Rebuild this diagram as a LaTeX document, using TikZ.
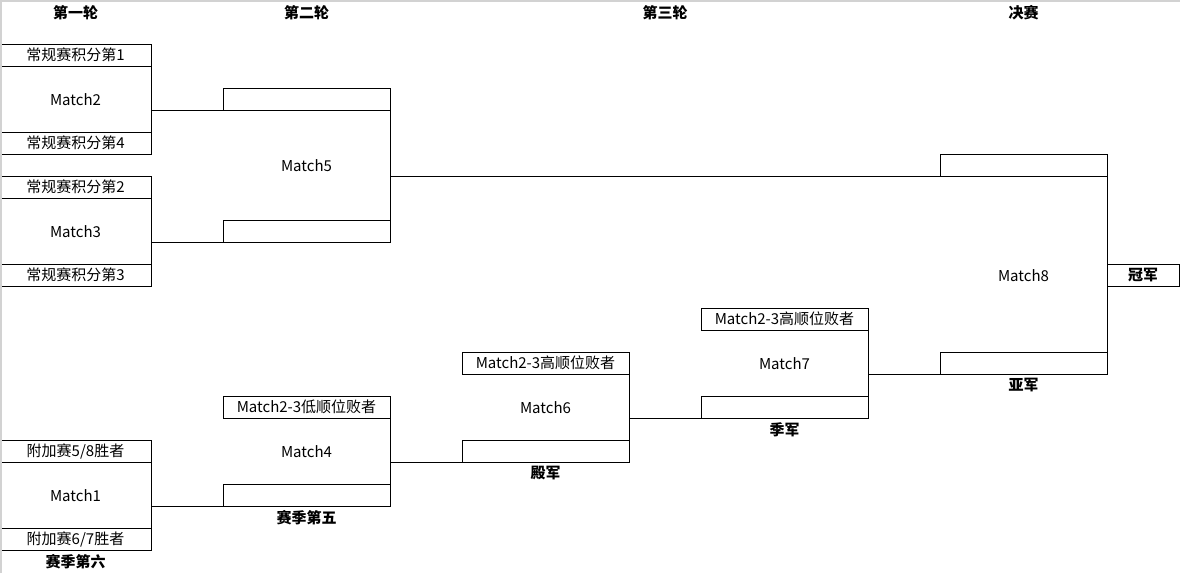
\documentclass[tikz,border=0pt]{standalone}
\usepackage{fontspec}
\setmainfont{Noto Sans CJK SC}
\begin{document}
\begin{tikzpicture}[x=1pt,y=-1pt,
  every node/.style={font=\fontsize{15}{17}\selectfont, inner sep=0pt, outer sep=0pt},
  slotA/.style={draw=black, line width=1pt, anchor=north west, minimum width=151pt, minimum height=22pt},
  slot/.style={draw=black, line width=1pt, anchor=north west, minimum width=167pt, minimum height=22pt},
  champ/.style={draw=black, line width=1pt, anchor=north west, minimum width=72pt, minimum height=22pt, font=\fontsize{15}{17}\selectfont\bfseries},
  body/.style={anchor=center},
  head/.style={anchor=center, font=\fontsize{15}{17}\selectfont\bfseries},
  res/.style={anchor=center, font=\fontsize{15}{17}\selectfont\bfseries},
  wire/.style={draw=black, line width=1pt}]
\useasboundingbox (0,0) rectangle (1180,573);
\fill[white] (0,0) rectangle (1180,573);

% headers
\node[head] (h1) at (75.5,12.5) {第一轮};
\node[head] (h2) at (306.5,12.5) {第二轮};
\node[head] (h3) at (665,12.5) {第三轮};
\node[head] (h4) at (1023.5,12.5) {决赛};

% Match2
\node[slotA] (s1) at (0,44) {常规赛积分第1};
\node[body] (m2) at (75.5,99.5) {Match2};
\node[slotA] (s4) at (0,132) {常规赛积分第4};
\draw[wire] (s1.south east) -- (s4.north east);

% Match3
\node[slotA] (s2) at (0,176) {常规赛积分第2};
\node[body] (m3) at (75.5,231.5) {Match3};
\node[slotA] (s3) at (0,264) {常规赛积分第3};
\draw[wire] (s2.south east) -- (s3.north east);

% Match1
\node[slotA] (p58) at (0,440) {附加赛5/8胜者};
\node[body] (m1) at (75.5,495.5) {Match1};
\node[slotA] (p67) at (0,528) {附加赛6/7胜者};
\draw[wire] (p58.south east) -- (p67.north east);
\node[res] (r6) at (75.5,561.5) {赛季第六};

% Match5
\node[slot] (m5a) at (223,88) {};
\node[body] (m5) at (306.5,165.5) {Match5};
\node[slot] (m5b) at (223,220) {};
\draw[wire] (m5a.south east) -- (m5b.north east);

% Match4
\node[slot] (m4a) at (223,396) {Match2-3低顺位败者};
\node[body] (m4) at (306.5,451.5) {Match4};
\node[slot] (m4b) at (223,484) {};
\draw[wire] (m4a.south east) -- (m4b.north east);
\node[res] (r5) at (306.5,517.5) {赛季第五};

% Match6
\node[slot] (m6a) at (462,352) {Match2-3高顺位败者};
\node[body] (m6) at (545.5,407.5) {Match6};
\node[slot] (m6b) at (462,440) {};
\draw[wire] (m6a.south east) -- (m6b.north east);
\node[res] (r4) at (545.5,473.5) {殿军};

% Match7
\node[slot] (m7a) at (701,308) {Match2-3高顺位败者};
\node[body] (m7) at (784.5,363.5) {Match7};
\node[slot] (m7b) at (701,396) {};
\draw[wire] (m7a.south east) -- (m7b.north east);
\node[res] (r3) at (784.5,429.5) {季军};

% Match8
\node[slot] (m8a) at (940,154) {};
\node[body] (m8) at (1023.5,275.5) {Match8};
\node[slot] (m8b) at (940,352) {};
\draw[wire] (m8a.south east) -- (m8b.north east);
\node[res] (r2) at (1023.5,385.5) {亚军};
\node[champ] (r1) at (1107,264) {冠军};

% connectors
\draw[wire] (m5a.south west -| s1.east) -- (m5a.south west);
\draw[wire] (m5b.south west -| s2.east) -- (m5b.south west);
\draw[wire] (m8a.south west -| m5a.east) -- (m8a.south west);
\draw[wire] (m4b.south west -| p58.east) -- (m4b.south west);
\draw[wire] (m6b.south west -| m4a.east) -- (m6b.south west);
\draw[wire] (m7b.south west -| m6a.east) -- (m7b.south west);
\draw[wire] (m8b.south west -| m7a.east) -- (m8b.south west);

% sheet border
\draw[gray!35, line width=1.5pt] (0.75,573) -- (0.75,0.75) -- (1180,0.75);
\end{tikzpicture}
\end{document}
